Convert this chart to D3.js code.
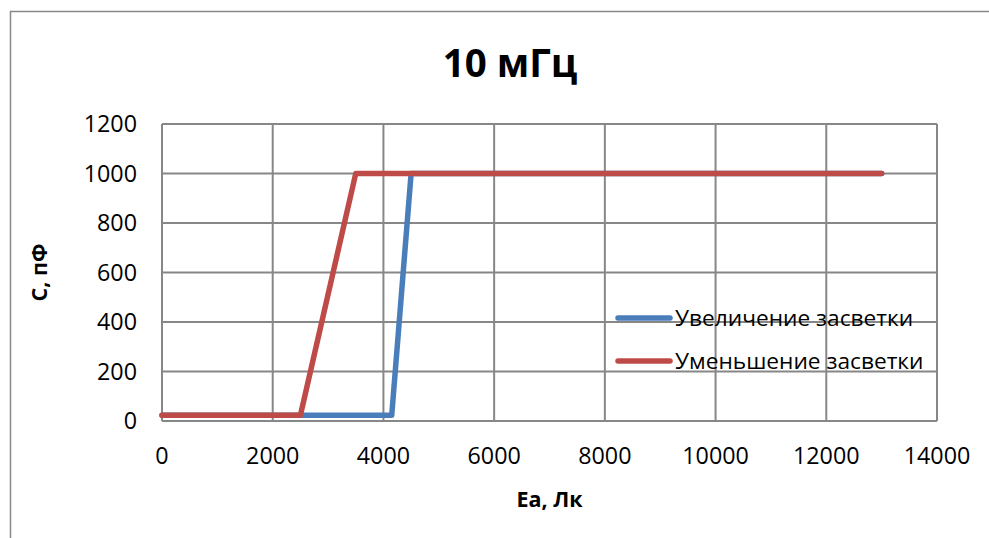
<!DOCTYPE html>
<html>
<head>
<meta charset="utf-8">
<script src="https://cdn.jsdelivr.net/npm/d3@7"></script>
<style>
body { margin:0; background:#fff; }
text { font-family:"Open Sans", sans-serif; fill:#000; }
</style>
</head>
<body>
<script>
var width = 989, height = 538;

// data
var xTicks = [0, 2000, 4000, 6000, 8000, 10000, 12000, 14000];
var yTicks = [0, 200, 400, 600, 800, 1000, 1200];
var seriesNames = ["Увеличение засветки", "Уменьшение засветки"];
var seriesColors = ["#4A7EBB", "#BE4B48"];
var incX = [0, 4150, 4500, 13000];
var incY = [23, 23, 1000, 1000];
var decX = [0, 2500, 3500, 13000];
var decY = [23, 23, 1000, 1000];

var margin = {left:162, right:52, top:124, bottom:117};

var svg = d3.select("body").append("svg").attr("width", width).attr("height", height)

// outer chart border
svg.append("rect").attr("x",10.5).attr("y",11.5).attr("width",1000).attr("height",600)
    .attr("fill","none").attr("stroke","#888").attr("stroke-width",1.5)

var x = d3.scaleLinear().domain([0,14000]).range([margin.left, width-margin.right])
var y = d3.scaleLinear().domain([0,1200]).range([height-margin.bottom, margin.top])

var grid = svg.append("g").attr("stroke","#878787").attr("stroke-width",2)
grid.selectAll(".gx").data(xTicks).enter().append("line")
    .attr("x1",d=>x(d)).attr("x2",d=>x(d)).attr("y1",y(0)).attr("y2",y(1200))
grid.selectAll(".gy").data(yTicks).enter().append("line")
    .attr("x1",x(0)).attr("x2",x(14000)).attr("y1",d=>y(d)).attr("y2",d=>y(d))

// tick labels
svg.selectAll(".xl").data(xTicks).enter().append("text")
    .attr("x",d=>x(d)).attr("y",y(0)+43).attr("text-anchor","middle")
    .attr("font-size",23.3).text(d=>d)
svg.selectAll(".yl").data(yTicks).enter().append("text")
    .attr("x",x(0)-25).attr("y",d=>y(d)+8).attr("text-anchor","end")
    .attr("font-size",23.3).text(d=>d)

var line = d3.line().x(d=>x(d[0])).y(d=>y(d[1]))
var series = [d3.zip(incX, incY), d3.zip(decX, decY)]
svg.selectAll(".series").data(series).enter().append("path")
    .attr("d",line).attr("fill","none")
    .attr("stroke",(d,i)=>seriesColors[i]).attr("stroke-width",5.5)
    .attr("stroke-linejoin","round").attr("stroke-linecap","round")

// legend
var lg = svg.selectAll(".lg").data(seriesNames).enter().append("g")
    .attr("transform",(d,i)=>"translate(618,"+(318+i*43)+")")
lg.append("line").attr("x1",0).attr("x2",52).attr("y1",0).attr("y2",0)
    .attr("stroke",(d,i)=>seriesColors[i]).attr("stroke-width",5.5).attr("stroke-linecap","round")
lg.append("text").attr("x",57).attr("y",8).attr("font-size",22.7).text(d=>d)

// titles
svg.append("text").attr("x",510).attr("y",77).attr("text-anchor","middle")
    .attr("font-size",38.5).attr("font-weight","bold").text("10 мГц")
svg.append("text").attr("x",(x(0)+x(14000))/2).attr("y",507).attr("text-anchor","middle")
    .attr("font-size",21.5).attr("font-weight","bold").text("Ea, Лк")
svg.append("text").attr("transform","translate(47,"+((y(0)+y(1200))/2)+") rotate(-90)")
    .attr("text-anchor","middle").attr("font-size",21.5).attr("font-weight","bold").text("С, пФ")
</script>
</body>
</html>
